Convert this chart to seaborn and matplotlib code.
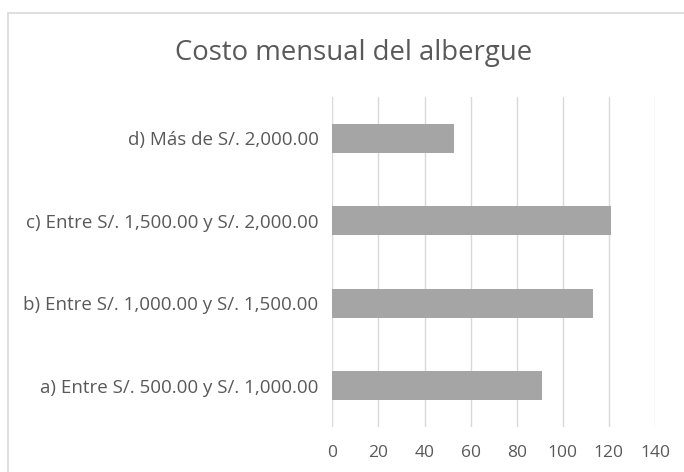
import matplotlib
matplotlib.use("Agg")
import matplotlib.pyplot as plt
import seaborn as sns
import pandas as pd
from matplotlib.patches import Rectangle

categories = [
    "d) Más de S/. 2,000.00",
    "c) Entre S/. 1,500.00 y S/. 2,000.00",
    "b) Entre S/. 1,000.00 y S/. 1,500.00",
    "a) Entre S/. 500.00 y S/. 1,000.00",
]
values = [53, 121, 113, 91]
title = "Costo mensual del albergue"
xticks = [0, 20, 40, 60, 80, 100, 120, 140]

sns.set_theme(style="white")
plt.rcParams['font.family'] = ['Open Sans', 'DejaVu Sans']

df = pd.DataFrame({"cat": categories, "val": values})

fig = plt.figure(figsize=(6.84, 4.72), dpi=100)
ax = fig.add_axes([332.3/684, 1-427/472, 322.7/684, (427-97)/472])

sns.barplot(data=df, x="val", y="cat", color="#a5a5a5", saturation=1,
            width=0.355, ax=ax, orient="h", linewidth=0)

ax.set_xlim(0, 140)
ax.set_xticks(xticks)
ax.set_xticklabels([str(t) for t in xticks])
ax.xaxis.grid(True, color="#d9d9d9", linewidth=1)
ax.yaxis.grid(False)
ax.set_axisbelow(True)
for s in ax.spines.values():
    s.set_visible(False)
ax.set_xlabel("")
ax.set_ylabel("")
ax.tick_params(axis="both", length=0, colors="#595959")
ax.tick_params(axis="x", pad=13, labelsize=12.5)
ax.tick_params(axis="y", pad=10, labelsize=13.5)

fig.text(354/684, 1-53/472, title, ha="center", va="center",
         fontsize=19.8, color="#595959")

fig.patches.append(Rectangle((8/684, -0.1), 1.2, 1.1 - 12.5/472,
                             transform=fig.transFigure, fill=False,
                             edgecolor="#d9d9d9", linewidth=1.2))

fig.savefig("out.png", dpi=100, facecolor="white")
